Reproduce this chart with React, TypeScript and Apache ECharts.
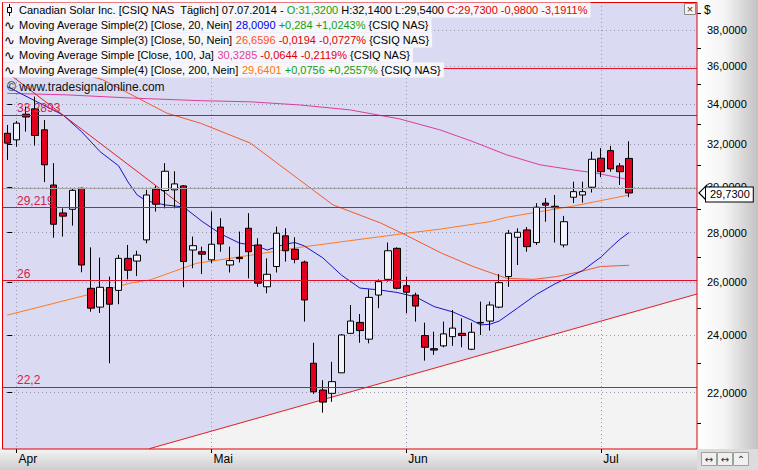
import React, { useEffect, useRef } from 'react';
import * as echarts from 'echarts';

const FONT = '"Liberation Sans", Arial, sans-serif';

// ---- data ----
const monthLabels = ['Apr', 'Mai', 'Jun', 'Jul'];
const monthStart = [1, 22, 43, 64];

const opens = [32.53, 32.21, 33.48, 33.75, 32.70, 30.09, 28.85, 29.01, 29.94, 25.75,
  25.03, 25.78, 25.67, 26.94, 26.83, 27.70, 29.90, 29.84, 29.87, 30.05,
  27.28, 27.21, 26.88, 28.24, 26.67, 26.98, 28.19, 27.49, 25.81, 26.61,
  27.87, 27.31, 26.79, 23.00, 22.09, 21.98, 22.67, 24.06, 24.46, 23.85,
  25.49, 26.10, 27.35, 25.85, 25.49, 23.98, 23.51, 23.61, 23.94, 24.06,
  23.49, 24.46, 24.51, 25.03, 26.21, 27.81, 28.12, 27.59, 29.28, 29.14,
  27.49, 29.54, 29.64, 29.99, 31.33, 31.69, 30.97, 31.32];
const highs = [32.94, 33.14, 33.87, 34.38, 33.19, 31.10, 29.05, 29.91, 29.97, 27.39,
  26.97, 26.21, 27.08, 27.49, 27.25, 29.87, 30.05, 31.10, 30.72, 30.09,
  27.84, 27.42, 28.91, 28.62, 27.42, 28.05, 28.84, 27.77, 26.94, 28.26,
  28.19, 27.81, 26.85, 23.72, 22.42, 23.05, 24.03, 25.11, 24.77, 25.71,
  26.10, 27.59, 27.39, 26.21, 25.58, 24.45, 24.12, 24.49, 24.92, 24.61,
  24.45, 25.24, 25.24, 26.31, 28.12, 28.19, 28.24, 29.28, 29.50, 29.64,
  28.72, 30.24, 30.24, 31.64, 31.81, 31.92, 31.10, 32.14];
const lows = [31.25, 31.88, 32.61, 31.93, 30.22, 27.79, 27.84, 28.30, 26.38, 24.86,
  24.81, 23.00, 25.14, 26.10, 26.23, 27.56, 28.91, 29.05, 29.05, 25.79,
  26.54, 26.31, 26.74, 27.21, 26.37, 26.77, 26.14, 25.81, 25.56, 26.37,
  26.81, 26.74, 24.49, 21.96, 21.35, 21.70, 22.67, 24.04, 23.72, 23.70,
  24.99, 26.01, 25.71, 24.80, 24.49, 23.09, 23.29, 23.56, 23.61, 23.56,
  23.46, 24.00, 24.16, 24.99, 25.81, 26.67, 27.21, 27.49, 28.47, 27.59,
  27.39, 29.28, 29.30, 29.75, 30.45, 30.70, 30.09, 29.54];
const closes = [32.05, 33.03, 33.34, 32.42, 31.02, 28.36, 28.71, 29.85, 26.67, 24.99,
  25.79, 25.14, 26.94, 26.46, 27.07, 29.64, 29.23, 30.72, 30.14, 26.81,
  27.46, 27.11, 27.52, 27.53, 26.85, 26.93, 27.21, 25.95, 26.30, 27.98,
  27.25, 26.90, 25.30, 22.03, 21.69, 22.37, 24.00, 24.51, 24.16, 25.40,
  26.01, 27.25, 25.75, 25.60, 25.07, 23.56, 23.46, 24.04, 24.25, 23.98,
  24.10, 24.44, 25.11, 25.97, 27.98, 28.02, 27.42, 29.10, 29.19, 29.08,
  28.47, 29.79, 29.79, 31.28, 30.70, 30.83, 30.70, 29.73];

const ma20Idx = [0, 3, 6, 8, 10, 12, 13, 14, 15, 17, 19, 21, 23, 25, 27, 28, 30, 31, 32, 34, 36, 38, 40, 42, 44, 46, 48, 50, 51, 52, 53, 55, 57, 59, 61, 62, 64, 65, 66, 67];
const ma20Val = [34.90, 34.16, 33.44, 32.61, 31.64, 30.97, 30.23, 29.64, 29.38, 29.20, 29.11, 28.48, 27.95, 27.57, 27.43, 27.28, 27.53, 27.59, 27.45, 26.96, 26.27, 25.76, 25.69, 25.59, 25.42, 25.05, 24.85, 24.55, 24.37, 24.39, 24.51, 25.00, 25.51, 25.92, 26.27, 26.45, 27.00, 27.37, 27.72, 28.01];
const ma50Idx = [0, 10.3, 17.2, 20.8, 26.2, 31.5, 35.1, 40.2, 42.9, 46.8, 50.2, 53.8, 56.7, 59.2, 61.7, 63.9, 67];
const ma50Val = [36.89, 35.26, 33.53, 33.03, 32.05, 30.32, 29.20, 28.42, 27.91, 27.15, 26.61, 26.14, 26.10, 26.21, 26.40, 26.61, 26.66];
const ma100Idx = [0, 6.4, 13.6, 20.8, 26.2, 31.5, 36.9, 42.3, 46.6, 50.2, 53.8, 57.4, 61, 63.5, 67];
const ma100Val = [34.55, 34.47, 34.30, 34.17, 34.11, 33.95, 33.70, 33.24, 32.70, 32.12, 31.49, 31.02, 30.78, 30.63, 30.33];
const ma200Idx = [0, 10, 13.2, 15.4, 20.4, 24, 27.6, 31.5, 43, 46.6, 52, 53.8, 61, 67];
const ma200Val = [24.73, 25.62, 25.95, 26.08, 26.74, 26.94, 27.15, 27.39, 27.98, 28.15, 28.47, 28.66, 29.15, 29.64];

const yTicks = [22, 24, 26, 28, 30, 32, 34, 36, 38];
const yMinorTicks = [21, 23, 25, 27, 29, 31, 33, 35, 37, 39];
const levelValues = [35.9, 33.2893, 29.219, 26, 22.2];
const levelLabels = ['', '33,2893', '29,219', '26', '22,2'];
const grayLevel = 30;
const lastClose = 29.73;
const downTrendIdx = [-0.57, 18.97];
const downTrendVal = [35.86, 29.13];
const upTrendIdx = [15.31, 74.32];
const upTrendVal = [20.22, 25.53];
const yRange = [20.21, 39.65];
const xRange = [-0.57, 74.32];

const legendRows = [
  { head: 'Canadian Solar Inc. [CSIQ NAS  Täglich] 07.07.2014 - ', parts: [['g', 'O:31,3200'], ['k', ' H:32,1400 L:29,5400 '], ['r', 'C:29,7300 -0,9800 -3,1911%']], tail: '' },
  { head: 'Moving Average Simple(2) [Close, 20, Nein] ', parts: [['b', '28,0090'], ['k', ' '], ['g', '+0,284 +1,0243%']], tail: ' {CSIQ NAS}' },
  { head: 'Moving Average Simple(3) [Close, 50, Nein] ', parts: [['o', '26,6596'], ['k', ' '], ['r', '-0,0194 -0,0727%']], tail: ' {CSIQ NAS}' },
  { head: 'Moving Average Simple [Close, 100, Ja] ', parts: [['m', '30,3285'], ['k', ' '], ['r', '-0,0644 -0,2119%']], tail: ' {CSIQ NAS}' },
  { head: 'Moving Average Simple(4) [Close, 200, Nein] ', parts: [['y', '29,6401'], ['k', ' '], ['g', '+0,0756 +0,2557%']], tail: ' {CSIQ NAS}' },
];

// ---- helpers ----
const L = Math.log;
const fmt4 = (v: number) => v.toFixed(4).replace('.', ',');
const pts = (idx: number[], val: number[]) => idx.map((x, k) => [x, L(val[k])]);

const C_RED = '#e0102a';
const C_BLUE = '#1515c8';
const C_MA50 = '#f25a2a';
const C_MA100 = '#dc3c9e';
const C_MA200 = '#ff7a1e';
const LEG_FS = 11;
const AX_FS = 11;

function buildOption() {
  const candleData = opens.map((o, i) => [i, L(o), L(closes[i]), L(lows[i]), L(highs[i])]);
  const richBase = { fontSize: LEG_FS, fontFamily: FONT };
  const rich: any = {
    k: { ...richBase, fill: '#000' },
    g: { ...richBase, fill: '#12a012' },
    r: { ...richBase, fill: '#e00000' },
    b: { ...richBase, fill: '#0000e0' },
    o: { ...richBase, fill: '#ff5020' },
    m: { ...richBase, fill: '#e040a0' },
    y: { ...richBase, fill: '#ff7800' },
  };

  const legendGraphics: any[] = [];
  legendRows.forEach((row, r) => {
    const y = 10 + r * 15;
    const text = '{k|' + row.head + '}' + row.parts.map((p) => '{' + p[0] + '|' + p[1] + '}').join('') + row.tail;
    legendGraphics.push({
      type: 'text', x: 3, y, z: 20,
      style: {
        text, rich, fill: '#000', fontSize: LEG_FS, fontFamily: FONT,
        verticalAlign: 'middle', backgroundColor: '#f6f6fb', padding: [2, 3, 2, 16],
      },
    });
    if (r === 0) {
      legendGraphics.push({ type: 'line', z: 21, shape: { x1: 9.5, y1: 4, x2: 9.5, y2: 16 }, style: { stroke: '#000', lineWidth: 1 } });
      legendGraphics.push({ type: 'rect', z: 22, shape: { x: 7.5, y: 7.5, width: 4, height: 5 }, style: { fill: '#f6f6fb', stroke: '#000', lineWidth: 1 } });
    } else {
      legendGraphics.push({ type: 'text', x: 4, y, z: 21, style: { text: '∿', fill: '#000', fontSize: 13, fontFamily: '"DejaVu Sans"', verticalAlign: 'middle' } });
    }
  });

  return {
    animation: false,
    grid: { left: 2, top: 2, width: 695, height: 447, show: true, backgroundColor: '#dadaf3', borderWidth: 0 },
    xAxis: [{
      type: 'value', min: xRange[0], max: xRange[1], z: 2,
      axisLine: { show: false },
      axisTick: { show: true, customValues: monthStart, length: 4, lineStyle: { color: '#000' } },
      axisLabel: {
        customValues: monthStart, color: '#000', fontSize: 12, fontFamily: FONT, align: 'left', margin: 4,
        padding: [0, 0, 0, 2],
        formatter: (v: number) => { const k = monthStart.indexOf(Math.round(v)); return k >= 0 ? monthLabels[k] : ''; },
      },
      splitLine: { show: true, lineStyle: { color: '#9898b0', type: [1, 3], width: 1 } },
    }],
    yAxis: [{
      type: 'value', position: 'right', min: L(yRange[0]), max: L(yRange[1]), z: 2,
      axisLine: { show: false },
      axisTick: { show: true, customValues: yTicks.map(L), length: 5, lineStyle: { color: '#000' } },
      axisLabel: {
        customValues: yTicks.map(L), color: '#000', fontSize: AX_FS, fontFamily: FONT, margin: 10,
        formatter: (v: number) => fmt4(Math.exp(v)),
      },
      splitLine: { show: true, lineStyle: { color: '#9898b0', type: [1, 3], width: 1 } },
    }, {
      type: 'value', position: 'right', min: L(yRange[0]), max: L(yRange[1]), z: 2,
      axisLine: { show: false },
      axisTick: { show: true, customValues: yMinorTicks.map(L), length: 4, lineStyle: { color: '#000' } },
      axisLabel: { show: false },
      splitLine: { show: false },
    }],
    series: [
      {
        name: 'fill', type: 'line', z: 1, silent: true, symbol: 'none',
        data: pts(upTrendIdx, upTrendVal),
        lineStyle: { width: 0 },
        areaStyle: { color: '#f3f3f3', opacity: 1, origin: 'start' },
      },
      {
        name: 'levels', type: 'line', z: 2.5, silent: true, symbol: 'none',
        data: [[xRange[0], L(grayLevel)]],
        lineStyle: { width: 0 },
        markLine: {
          silent: true, symbol: 'none', animation: false,
          data: [
            { yAxis: L(grayLevel), lineStyle: { color: '#a4a4a4', type: 'solid', width: 1 }, label: { show: false } },
            ...levelValues.map((v, k) => ({
              yAxis: L(v),
              lineStyle: { color: C_RED, type: 'solid', width: 1 },
              label: {
                show: levelLabels[k] !== '', formatter: levelLabels[k], position: 'insideStartTop',
                color: '#d8204a', fontSize: 12, fontFamily: FONT, distance: 1, padding: [0, 0, 0, 14],
              },
            })),
          ],
        },
      },
      { name: 'MA200', type: 'line', z: 3, symbol: 'none', data: pts(ma200Idx, ma200Val), lineStyle: { color: C_MA200, width: 1 } },
      { name: 'MA100', type: 'line', z: 3, symbol: 'none', data: pts(ma100Idx, ma100Val), lineStyle: { color: C_MA100, width: 1 } },
      { name: 'MA50', type: 'line', z: 3, symbol: 'none', data: pts(ma50Idx, ma50Val), lineStyle: { color: C_MA50, width: 1 } },
      { name: 'MA20', type: 'line', z: 3, symbol: 'none', data: pts(ma20Idx, ma20Val), lineStyle: { color: C_BLUE, width: 1 } },
      { name: 'down', type: 'line', z: 3, symbol: 'none', data: pts(downTrendIdx, downTrendVal), lineStyle: { color: '#e02020', width: 1 } },
      { name: 'up', type: 'line', z: 3, symbol: 'none', data: pts(upTrendIdx, upTrendVal), lineStyle: { color: '#e02020', width: 1 } },
      {
        name: 'CSIQ', type: 'candlestick', z: 4, barWidth: 7,
        encode: { x: 0, y: [1, 2, 3, 4] },
        data: candleData,
        itemStyle: { color: '#f2f2fc', color0: '#e0001e', borderColor: '#000', borderColor0: '#000', borderWidth: 1 },
        markPoint: {
          silent: true, animation: false,
          data: [{
            coord: [xRange[1], L(lastClose)], symbol: 'triangle', symbolSize: [16, 8], symbolRotate: 90,
            symbolOffset: [6, 0], itemStyle: { color: '#ffffff', borderColor: '#000', borderWidth: 1 },
            label: { show: false },
          }],
        },
        markLine: {
          silent: true, symbol: 'none', animation: false,
          data: [{
            yAxis: L(lastClose), lineStyle: { width: 0, color: 'rgba(0,0,0,0)' },
            label: {
              show: true, position: 'end', formatter: fmt4(lastClose), distance: 9,
              color: '#000', fontSize: AX_FS, fontFamily: FONT, backgroundColor: '#ffffff',
              borderColor: '#000', borderWidth: 1, padding: [2, 3, 1, 4], opacity: 1,
            },
          }],
        },
      },
    ],
    graphic: [
      {
        type: 'rect', z: 0, silent: true, shape: { x: 697, y: 0, width: 61, height: 450 },
        style: { fill: { type: 'linear', x: 0, y: 0, x2: 1, y2: 0, colorStops: [{ offset: 0, color: '#ffffff' }, { offset: 0.45, color: '#f4f4f4' }, { offset: 1, color: '#c2c2c2' }] } },
      },
      {
        type: 'rect', z: 0, silent: true, shape: { x: 0, y: 449, width: 697, height: 21 },
        style: { fill: { type: 'linear', x: 0, y: 0, x2: 0, y2: 1, colorStops: [{ offset: 0, color: '#f4f4f4' }, { offset: 1, color: '#cdcdcd' }] } },
      },
      { type: 'rect', z: 0, silent: true, shape: { x: 697, y: 449, width: 61, height: 21 }, style: { fill: '#dcdcdc' } },
      { type: 'rect', z: 1, shape: { x: 701.5, y: 452.5, width: 15, height: 13 }, style: { fill: '#f0f0f0', stroke: '#a0a0a0' } },
      { type: 'rect', z: 1, shape: { x: 717.5, y: 452.5, width: 15, height: 13 }, style: { fill: '#f0f0f0', stroke: '#a0a0a0' } },
      { type: 'rect', z: 1, shape: { x: 733.5, y: 452.5, width: 15, height: 13 }, style: { fill: '#f0f0f0', stroke: '#a0a0a0' } },
      { type: 'text', z: 2, x: 709, y: 459, style: { text: '↔', fill: '#333', fontSize: 10, fontFamily: '"DejaVu Sans"', align: 'center', verticalAlign: 'middle' } },
      { type: 'text', z: 2, x: 725, y: 459, style: { text: '↔', fill: '#333', fontSize: 10, fontFamily: '"DejaVu Sans"', align: 'center', verticalAlign: 'middle' } },
      { type: 'text', z: 2, x: 741, y: 459, style: { text: '⌃', fill: '#333', fontSize: 10, fontFamily: '"DejaVu Sans"', align: 'center', verticalAlign: 'middle' } },
      { type: 'text', z: 2, x: 704, y: 10, style: { text: '$', fill: '#000', fontSize: 12, fontFamily: FONT, verticalAlign: 'middle' } },
      { type: 'rect', z: 8, silent: true, shape: { x: 2.5, y: 2.5, width: 694.5, height: 446.5 }, style: { fill: 'none', stroke: '#e00000', lineWidth: 1 } },
      { type: 'rect', z: 9, shape: { x: 684.5, y: 3.5, width: 11, height: 11 }, style: { fill: '#f4f4f4', stroke: '#8a8a8a', lineWidth: 1 } },
      { type: 'text', z: 10, x: 690, y: 9, style: { text: '×', fill: '#333', fontSize: 11, fontFamily: FONT, align: 'center', verticalAlign: 'middle' } },
      { type: 'text', z: 3.5, x: 7, y: 87, style: { text: '© www.tradesignalonline.com', fill: '#111', fontSize: 12, fontFamily: FONT, verticalAlign: 'middle' } },
      ...legendGraphics,
    ],
  };
}

export default function App() {
  const ref = useRef<HTMLDivElement>(null);
  useEffect(() => {
    if (!ref.current) return;
    const chart = echarts.init(ref.current, undefined, { renderer: 'svg' });
    chart.setOption(buildOption() as any);
    return () => chart.dispose();
  }, []);
  return <div ref={ref} style={{ position: 'absolute', left: 0, top: 0, width: 758, height: 470 }} />;
}
